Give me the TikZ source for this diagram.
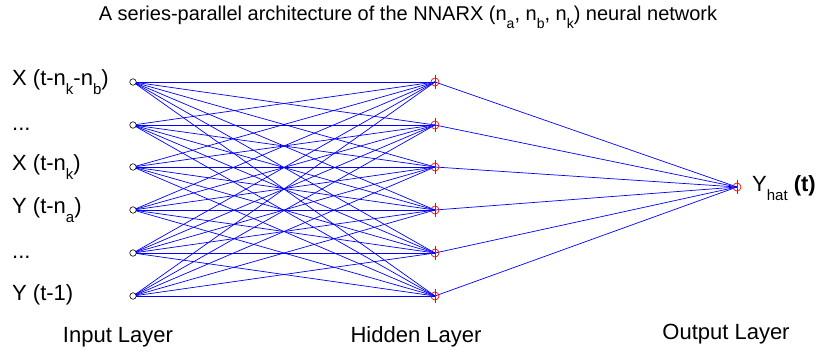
\documentclass[tikz,border=0pt]{standalone}
\usepackage{fontspec}
\setmainfont{Liberation Sans}
\usetikzlibrary{backgrounds}
\newcommand{\lsub}[1]{\raisebox{-0.42em}{\fontsize{15}{15}\selectfont #1}}
\newcommand{\tsub}[1]{\raisebox{-0.42em}{\fontsize{14}{14}\selectfont #1}}
\begin{document}
\begin{tikzpicture}[x=1pt,y=-1pt,
  inp/.style={circle,draw=black,fill=white,inner sep=0pt,minimum size=6.5pt,line width=0.6pt},
  hid/.style={circle,draw=red,inner sep=0pt,minimum size=8pt,line width=0.7pt},
  conn/.style={draw=blue,line width=0.7pt},
  lbl/.style={anchor=base west,inner sep=0pt,font=\fontsize{22}{24}\selectfont},
  layer/.style={anchor=base,inner sep=0pt,font=\fontsize{22}{24}\selectfont},
  ttl/.style={anchor=base,inner sep=0pt,font=\fontsize{20}{22}\selectfont}]
\useasboundingbox (0,0) rectangle (817,351);
\node[ttl] (title) at (408,20) {A series-parallel architecture of the NNARX (n\tsub{a}, n\tsub{b}, n\tsub{k}) neural network};
% nodes
\foreach \i/\y in {1/82,2/125,3/167,4/210,5/253,6/296}{
  \node[inp] (i\i) at (133,\y) {};
  \node[hid] (h\i) at (435,\y) {};
}
\node[hid] (o) at (737,187) {};
% vertical bars of hidden/output symbols
\foreach \n in {h1,h2,h3,h4,h5,h6,o}{
  \draw[red,line width=0.7pt] ([yshift=3pt]\n.north) -- ([yshift=-3pt]\n.south);
}
\begin{scope}[on background layer]
\foreach \a in {1,...,6}{
  \foreach \b in {1,...,6}{
    \draw[conn] (i\a.center) -- (h\b.center);
  }
  \draw[conn] (h\a.center) -- (o.center);
}
\end{scope}
% input labels
\node[lbl] (l1) at (12,85) {X (t-n\lsub{k}-n\lsub{b})};
\node[lbl] (l2) at (12,130) {...};
\node[lbl] (l3) at (12,170) {X (t-n\lsub{k})};
\node[lbl] (l4) at (12,213) {Y (t-n\lsub{a})};
\node[lbl] (l5) at (12,258) {...};
\node[lbl] (l6) at (12,300) {Y (t-1)};
\node[lbl] (ly) at (752,191) {Y\lsub{hat} \textbf{(t)}};
% layer labels
\node[layer] (li) at (118,342) {Input Layer};
\node[layer] (lh) at (416,342) {Hidden Layer};
\node[layer] (lo) at (726,339) {Output Layer};
\end{tikzpicture}
\end{document}
